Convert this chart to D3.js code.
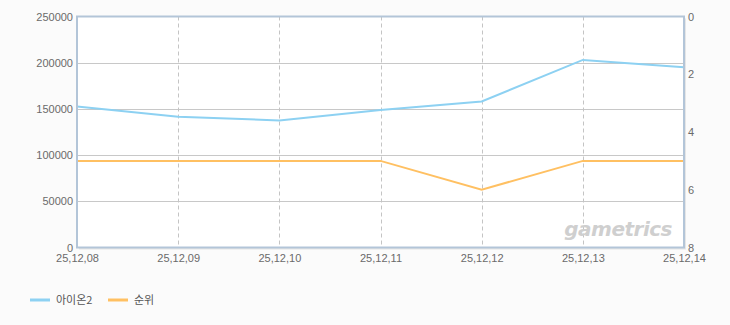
<!DOCTYPE html>
<html><head><meta charset="utf-8">
<script src="https://cdn.jsdelivr.net/npm/d3@7/dist/d3.min.js"></script>
<style>
html,body{margin:0;padding:0;background:#fbfbfb;}
svg{display:block;}
</style></head>
<body>
<svg id="chart" width="730" height="325"></svg>
<script>
const categories = ["25,12,08","25,12,09","25,12,10","25,12,11","25,12,12","25,12,13","25,12,14"];
const usersValues = [152600, 141500, 137500, 148800, 158000, 203000, 195000];
const rankValues = [5, 5, 5, 5, 6, 5, 5];
const leftTicks = [0, 50000, 100000, 150000, 200000, 250000];
const rightTicks = [0, 2, 4, 6, 8];
const seriesNames = ["아이온2", "순위"];
const colors = ["#8dd1f2", "#ffc062"];

const svg = d3.select("#chart");
const m = {l: 77, r: 684, t: 16.5, b: 247.5};
const font = "'Liberation Sans', Arial, sans-serif";

const x = d3.scalePoint().domain(categories).range([m.l, m.r]);
const yL = d3.scaleLinear().domain([0, 250000]).range([m.b, m.t]);
const yR = d3.scaleLinear().domain([0, 8]).range([m.t, m.b]);

// shadow
svg.append("rect").attr("x", m.l+2).attr("y", m.t+2).attr("width", m.r-m.l).attr("height", m.b-m.t)
  .attr("fill", "#e6e6e6");
// plot background
svg.append("rect").attr("x", m.l).attr("y", m.t).attr("width", m.r-m.l).attr("height", m.b-m.t)
  .attr("fill", "#ffffff");

// horizontal gridlines
svg.append("g").selectAll("line").data(leftTicks.slice(1,-1)).join("line")
  .attr("x1", m.l).attr("x2", m.r)
  .attr("y1", d => Math.round(yL(d))+0.5).attr("y2", d => Math.round(yL(d))+0.5)
  .attr("stroke", "#c8c8c8").attr("stroke-width", 1);

// vertical dashed gridlines
svg.append("g").selectAll("line").data(categories.slice(1,-1)).join("line")
  .attr("x1", d => Math.round(x(d))+0.5).attr("x2", d => Math.round(x(d))+0.5)
  .attr("y1", m.t).attr("y2", m.b)
  .attr("stroke", "#c4c4c4").attr("stroke-width", 1).attr("stroke-dasharray", "4,3");

// watermark
svg.append("text").attr("x", 672).attr("y", 236).attr("text-anchor", "end")
  .attr("font-family", "'DejaVu Sans', sans-serif").attr("font-style", "italic").attr("font-weight", "bold")
  .attr("font-size", 20).attr("fill", "#cfcfcf").attr("letter-spacing", "-0.5")
  .text("gametrics");

// lines
const lineL = d3.line().x((d,i) => x(categories[i])).y(d => yL(d));
const lineR = d3.line().x((d,i) => x(categories[i])).y(d => yR(d));
svg.append("path").datum(usersValues).attr("d", lineL).attr("fill", "none")
  .attr("stroke", colors[0]).attr("stroke-width", 2);
svg.append("path").datum(rankValues).attr("d", lineR).attr("fill", "none")
  .attr("stroke", colors[1]).attr("stroke-width", 2);

// frame
svg.append("rect").attr("x", m.l).attr("y", m.t).attr("width", m.r-m.l).attr("height", m.b-m.t)
  .attr("fill", "none").attr("stroke", "#b3c5d8").attr("stroke-width", 2);

// left axis
const axL = d3.axisLeft(yL).tickValues(leftTicks).tickSize(0).tickPadding(4).tickFormat(d3.format("d"));
const gL = svg.append("g").attr("transform", `translate(${m.l},0)`).call(axL);
gL.select(".domain").remove();
gL.selectAll("text").attr("font-family", font).attr("font-size", 11).attr("fill", "#6a6a6a");

// right axis
const axR = d3.axisRight(yR).tickValues(rightTicks).tickSize(0).tickPadding(4);
const gR = svg.append("g").attr("transform", `translate(${m.r},0)`).call(axR);
gR.select(".domain").remove();
gR.selectAll("text").attr("font-family", font).attr("font-size", 11).attr("fill", "#6a6a6a");

// bottom axis
const axB = d3.axisBottom(x).tickSize(0).tickPadding(7);
const gB = svg.append("g").attr("transform", `translate(0,${m.b})`).call(axB);
gB.select(".domain").remove();
gB.selectAll("text").attr("font-family", font).attr("font-size", 11).attr("fill", "#6a6a6a");

// legend
const leg = svg.append("g").attr("transform", "translate(30,300)");
const items = leg.selectAll("g").data(seriesNames).join("g")
  .attr("transform", (d,i) => `translate(${i*78},0)`);
items.append("line").attr("x1", 0).attr("x2", 20).attr("y1", 0).attr("y2", 0)
  .attr("stroke", (d,i) => colors[i]).attr("stroke-width", 3);
items.append("text").attr("x", 26).attr("y", 4).attr("font-family", "'Noto Sans CJK KR', sans-serif")
  .attr("font-size", 11).attr("fill", "#555").text(d => d);
</script>
</body></html>
